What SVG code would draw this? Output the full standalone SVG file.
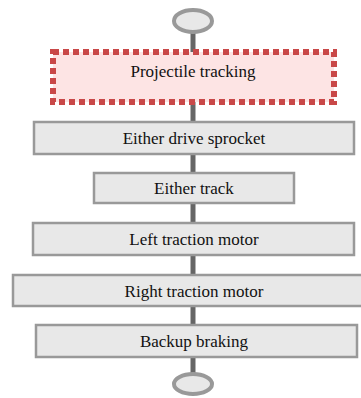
<svg xmlns="http://www.w3.org/2000/svg" width="361" height="398" viewBox="0 0 361 398">
<style>
.box{fill:#e8e8e8;stroke:#999;stroke-width:2.5}
.term{fill:#e8e8e8;stroke:#999;stroke-width:4}
.hl{fill:#fde4e4;stroke:#c94848;stroke-width:6;stroke-dasharray:6 4}
.lbl{font-size:17px;fill:#111;text-anchor:middle}
.wire{stroke:#666;stroke-width:5;fill:none}
</style>
<rect width="361" height="398" fill="#fff"/>
<g id="connectors">
<line class="wire" x1="193" y1="32" x2="193" y2="52"/>
<line class="wire" x1="193" y1="102" x2="193" y2="122"/>
<line class="wire" x1="193" y1="154" x2="193" y2="173"/>
<line class="wire" x1="193" y1="203" x2="193" y2="223"/>
<line class="wire" x1="193" y1="255" x2="193" y2="275"/>
<line class="wire" x1="193" y1="306" x2="193" y2="325"/>
<line class="wire" x1="193" y1="357" x2="193" y2="374"/>
</g>
<g font-family="'Liberation Serif', 'Times New Roman', Times, serif">
<g id="start"><ellipse class="term" cx="193" cy="21" rx="19" ry="11"/></g>
<g id="projectile"><rect class="hl" x="53" y="52" width="281" height="50"/><text class="lbl" x="193" y="77">Projectile tracking</text></g>
<g id="sprocket"><rect class="box" x="34" y="122" width="320" height="32"/><text class="lbl" x="194" y="143.5">Either drive sprocket</text></g>
<g id="track"><rect class="box" x="94" y="173" width="200" height="30"/><text class="lbl" x="194" y="193.5">Either track</text></g>
<g id="left"><rect class="box" x="33" y="223" width="321" height="32"/><text class="lbl" x="194" y="245">Left traction motor</text></g>
<g id="right"><rect class="box" x="13" y="275" width="362" height="31"/><text class="lbl" x="194" y="297">Right traction motor</text></g>
<g id="braking"><rect class="box" x="36" y="325" width="321" height="32"/><text class="lbl" x="194" y="347">Backup braking</text></g>
<g id="end"><ellipse class="term" cx="193" cy="384" rx="19" ry="10"/></g>
</g>
</svg>
